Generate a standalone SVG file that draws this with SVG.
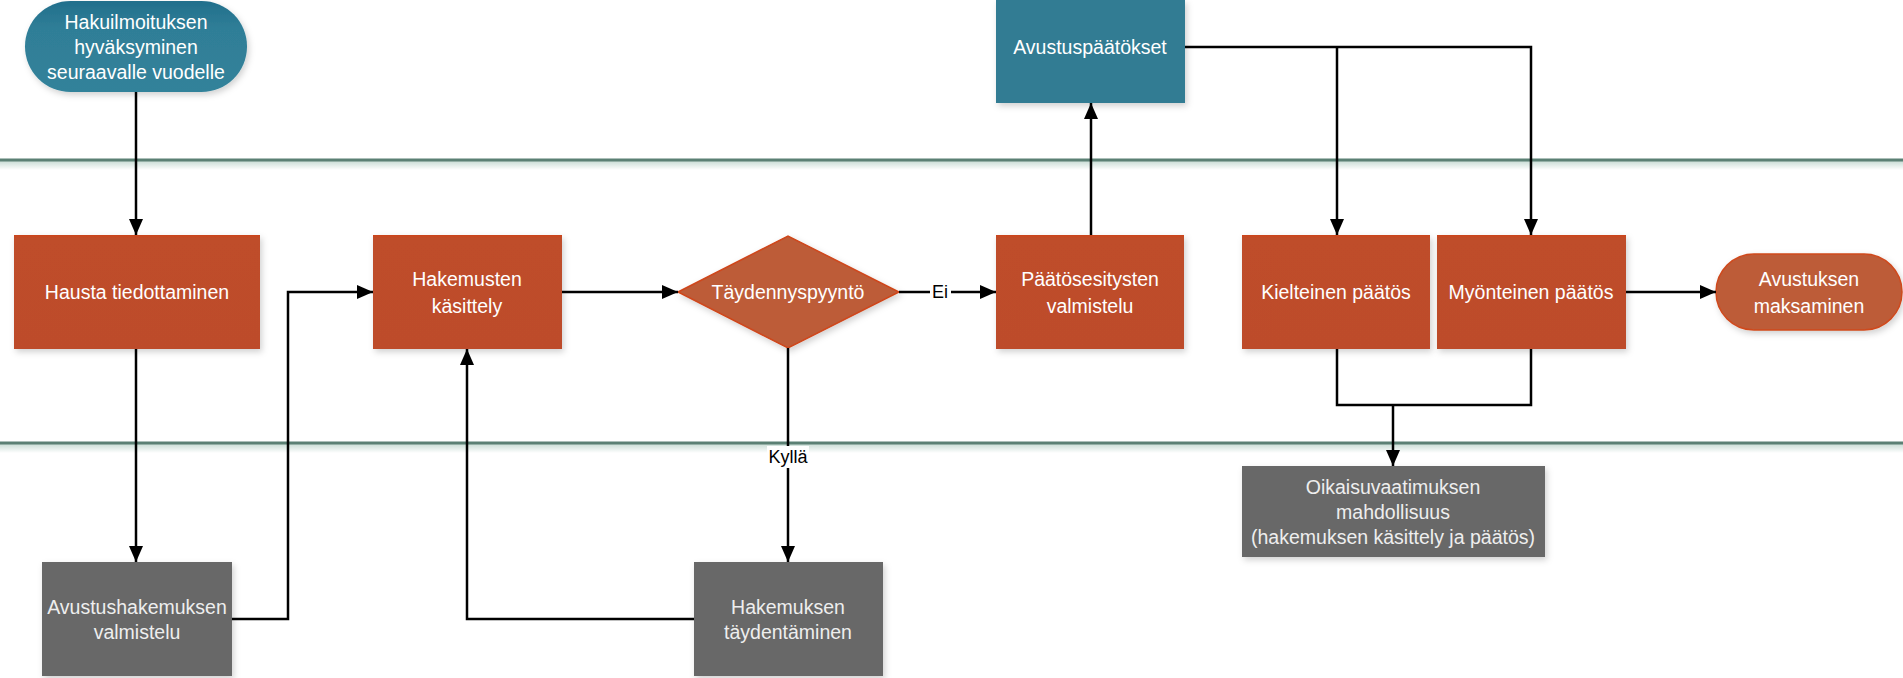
<svg xmlns="http://www.w3.org/2000/svg" width="1903" height="678" viewBox="0 0 1903 678">
<defs>
<linearGradient id="gOr" x1="0" y1="0" x2="0" y2="1"><stop offset="0" stop-color="#CC4418"/><stop offset="0.03" stop-color="#BF4D2C"/><stop offset="1" stop-color="#BD4C2C"/></linearGradient>
<linearGradient id="gTeal" x1="0" y1="0" x2="0" y2="1"><stop offset="0" stop-color="#226F8C"/><stop offset="0.3" stop-color="#2F7E97"/><stop offset="1" stop-color="#32829A"/></linearGradient>
<linearGradient id="gLane" x1="0" y1="0" x2="0" y2="1"><stop offset="0" stop-color="#C9DCD5"/><stop offset="1" stop-color="#FFFFFF"/></linearGradient>
<filter id="sh" x="-10%" y="-10%" width="125%" height="130%"><feDropShadow dx="2" dy="3" stdDeviation="3" flood-color="#000" flood-opacity="0.18"/></filter>
<marker id="ah" viewBox="0 0 16 14" refX="16" refY="7" markerWidth="16" markerHeight="14" markerUnits="userSpaceOnUse" orient="auto"><path d="M0,0 L16,7 L0,14 Z" fill="#000"/></marker>
<style>
.lane{stroke:#5B8074;stroke-width:3}
.laneSh{fill:url(#gLane)}
.or{fill:url(#gOr);filter:url(#sh)}
.teal{fill:#317B93;filter:url(#sh)}
.gray{fill:#676767;filter:url(#sh)}
.dia{fill:#BD5B38;stroke:#CF461A;stroke-width:1.5;filter:url(#sh)}
.t{font-family:"Liberation Sans",Arial,sans-serif;font-size:19.5px;fill:#FFFFFF;text-anchor:middle;dominant-baseline:central}
.tg{fill:#EEEEEE}
.c{fill:none;stroke:#000;stroke-width:2.5}
.ca{fill:none;stroke:#000;stroke-width:2.5;marker-end:url(#ah)}
.lbl{font-family:"Liberation Sans",Arial,sans-serif;font-size:18px;fill:#000;text-anchor:middle;dominant-baseline:central}
</style>
</defs>
<rect width="1903" height="678" fill="#FFFFFF"/>
<g id="lanes">
<rect class="laneSh" x="0" y="161" width="1903" height="9"/>
<line class="lane" x1="0" y1="160" x2="1903" y2="160"/>
<rect class="laneSh" x="0" y="444" width="1903" height="9"/>
<line class="lane" x1="0" y1="443" x2="1903" y2="443"/>
</g>
<g id="n-hakuilmoitus">
<rect x="25" y="1" width="222" height="91" rx="45.5" fill="url(#gTeal)" filter="url(#sh)"/>
<text class="t" x="136" y="22">Hakuilmoituksen</text>
<text class="t" x="136" y="47">hyväksyminen</text>
<text class="t" x="136" y="72">seuraavalle vuodelle</text>
</g>
<g id="n-hausta">
<rect class="or" x="14" y="235" width="246" height="114"/>
<text class="t" x="137" y="292">Hausta tiedottaminen</text>
</g>
<g id="n-hakemusten">
<rect class="or" x="373" y="235" width="189" height="114"/>
<text class="t" x="467" y="279">Hakemusten</text>
<text class="t" x="467" y="306">käsittely</text>
</g>
<g id="n-taydennyspyynto">
<polygon class="dia" points="678,292 788,236 899,292 788,348"/>
<text class="t" x="788" y="292">Täydennyspyyntö</text>
</g>
<g id="n-paatosesitysten">
<rect class="or" x="996" y="235" width="188" height="114"/>
<text class="t" x="1090" y="279">Päätösesitysten</text>
<text class="t" x="1090" y="306">valmistelu</text>
</g>
<g id="n-avustuspaatokset">
<rect class="teal" x="996" y="0" width="189" height="103"/>
<text class="t" x="1090" y="47">Avustuspäätökset</text>
</g>
<g id="n-kielteinen">
<rect class="or" x="1242" y="235" width="188" height="114"/>
<text class="t" x="1336" y="292">Kielteinen päätös</text>
</g>
<g id="n-myonteinen">
<rect class="or" x="1437" y="235" width="189" height="114"/>
<text class="t" x="1531" y="292">Myönteinen päätös</text>
</g>
<g id="n-maksaminen">
<rect x="1716" y="254" width="186" height="76" rx="38" fill="#BD5B38" stroke="#CF4A1D" stroke-width="1.5" filter="url(#sh)"/>
<text class="t" x="1809" y="279">Avustuksen</text>
<text class="t" x="1809" y="306">maksaminen</text>
</g>
<g id="n-avustushakemuksen">
<rect class="gray" x="42" y="562" width="190" height="114"/>
<text class="t tg" x="137" y="607">Avustushakemuksen</text>
<text class="t tg" x="137" y="632">valmistelu</text>
</g>
<g id="n-taydentaminen">
<rect class="gray" x="694" y="562" width="189" height="114"/>
<text class="t tg" x="788" y="607">Hakemuksen</text>
<text class="t tg" x="788" y="632">täydentäminen</text>
</g>
<g id="n-oikaisu">
<rect class="gray" x="1242" y="466" width="303" height="91"/>
<text class="t tg" x="1393" y="487">Oikaisuvaatimuksen</text>
<text class="t tg" x="1393" y="512">mahdollisuus</text>
<text class="t tg" x="1393" y="537">(hakemuksen käsittely ja päätös)</text>
</g>
<g id="connectors">
<path class="ca" d="M136,92 V235"/>
<path class="ca" d="M136,349 V562"/>
<path class="ca" d="M232,619 H288 V292 H373"/>
<path class="ca" d="M562,292 H678"/>
<path class="ca" d="M788,348 V562"/>
<rect x="767" y="446" width="42" height="22" fill="#FFFFFF"/>
<text class="lbl" x="788" y="457">Kyllä</text>
<path class="ca" d="M694,619 H467 V349"/>
<path class="ca" d="M899,292 H996"/>
<rect x="930" y="282" width="21" height="20" fill="#FFFFFF"/>
<text class="lbl" x="940" y="292">Ei</text>
<path class="ca" d="M1091,235 V103"/>
<path class="ca" d="M1185,47 H1531 V235"/>
<path class="ca" d="M1337,47 V235"/>
<path class="ca" d="M1626,292 H1716"/>
<path class="c" d="M1337,349 V405 H1531 V349"/>
<path class="ca" d="M1393,405 V466"/>
</g>
</svg>
